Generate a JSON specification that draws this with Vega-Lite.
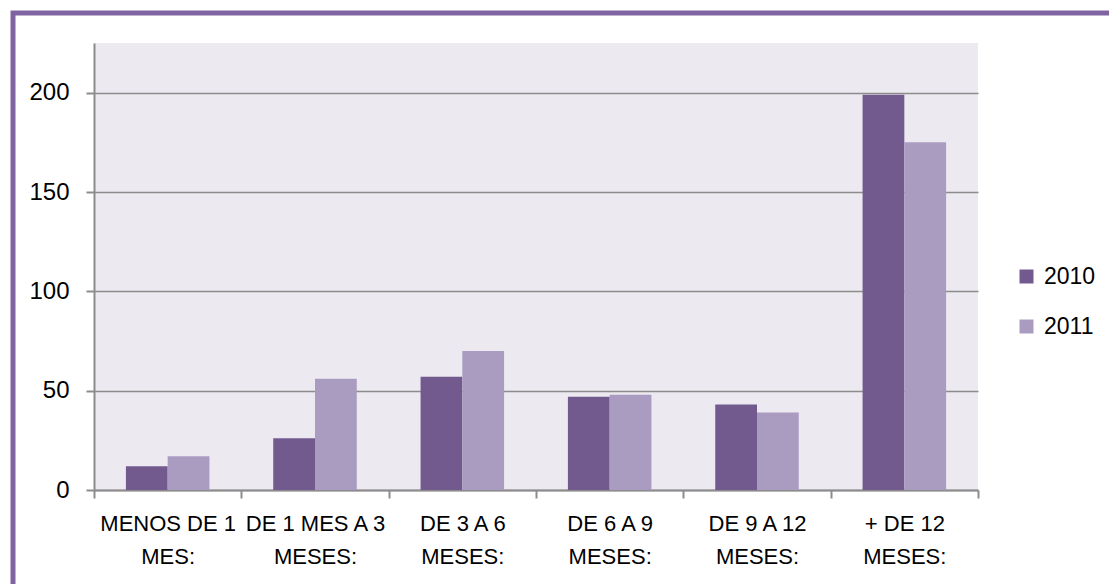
{
  "$schema": "https://vega.github.io/schema/vega-lite/v6.json",
  "width": 884,
  "height": 447,
  "padding": {"left": 10, "top": 10, "right": 0, "bottom": 0},
  "background": "white",
  "config": {
    "view": {"fill": "#ECE9F1", "stroke": null},
    "font": "Liberation Sans"
  },
  "data": {
    "values": [
      {"cat": "MENOS DE 1 MES:", "year": "2010", "value": 12},
      {"cat": "MENOS DE 1 MES:", "year": "2011", "value": 17},
      {"cat": "DE 1 MES A 3 MESES:", "year": "2010", "value": 26},
      {"cat": "DE 1 MES A 3 MESES:", "year": "2011", "value": 56},
      {"cat": "DE 3 A 6 MESES:", "year": "2010", "value": 57},
      {"cat": "DE 3 A 6 MESES:", "year": "2011", "value": 70},
      {"cat": "DE 6 A 9 MESES:", "year": "2010", "value": 47},
      {"cat": "DE 6 A 9 MESES:", "year": "2011", "value": 48},
      {"cat": "DE 9 A 12 MESES:", "year": "2010", "value": 43},
      {"cat": "DE 9 A 12 MESES:", "year": "2011", "value": 39},
      {"cat": "+ DE 12 MESES:", "year": "2010", "value": 199},
      {"cat": "+ DE 12 MESES:", "year": "2011", "value": 175}
    ]
  },
  "mark": {"type": "bar", "strokeWidth": 0},
  "encoding": {
    "x": {
      "field": "cat",
      "type": "nominal",
      "sort": ["MENOS DE 1 MES:", "DE 1 MES A 3 MESES:", "DE 3 A 6 MESES:", "DE 6 A 9 MESES:", "DE 9 A 12 MESES:", "+ DE 12 MESES:"],
      "scale": {"paddingInner": 0, "paddingOuter": 0},
      "axis": {
        "title": null,
        "labelAngle": 0,
        "tickBand": "extent",
        "tickSize": 8,
        "tickWidth": 2,
        "tickColor": "#8C8C8C",
        "domainColor": "#8C8C8C",
        "domainWidth": 2,
        "labelExpr": "[slice(datum.label, 0, lastindexof(datum.label, ' ')), slice(datum.label, lastindexof(datum.label, ' ') + 1)]",
        "labelLineHeight": 33,
        "labelFontSize": 22,
        "labelColor": "#000000",
        "labelPadding": 15,
        "labelLimit": 300,
        "labelOverlap": false
      }
    },
    "xOffset": {
      "field": "year",
      "type": "nominal",
      "scale": {"paddingInner": 0, "paddingOuter": 0.764}
    },
    "y": {
      "field": "value",
      "type": "quantitative",
      "scale": {"domain": [0, 225], "nice": false},
      "axis": {
        "title": null,
        "values": [0, 50, 100, 150, 200],
        "grid": true,
        "gridColor": "#8C8C8C",
        "gridWidth": 1.5,
        "domainColor": "#8C8C8C",
        "domainWidth": 2,
        "tickColor": "#8C8C8C",
        "tickSize": 8,
        "tickWidth": 2,
        "labelFontSize": 24,
        "labelColor": "#000000",
        "labelPadding": 17
      }
    },
    "color": {
      "field": "year",
      "type": "nominal",
      "scale": {"domain": ["2010", "2011"], "range": ["#725A8F", "#AA9BC0"]},
      "legend": {
        "orient": "none",
        "legendX": 921,
        "legendY": 222,
        "title": null,
        "padding": 0,
        "symbolType": "square",
        "symbolSize": 196,
        "symbolStrokeWidth": 0,
        "labelFontSize": 23,
        "labelColor": "#000000",
        "labelOffset": 6,
        "rowPadding": 26
      }
    },
    "stroke": {
      "field": "value",
      "type": "quantitative",
      "legend": {
        "orient": "none",
        "legendX": -81,
        "legendY": -30,
        "direction": "horizontal",
        "gradientLength": 530,
        "gradientThickness": 10,
        "gradientOpacity": 0,
        "gradientStrokeWidth": 0,
        "padding": 290,
        "labelExpr": "''",
        "labelOpacity": 0,
        "title": null,
        "strokeColor": "#8064A2",
        "encode": {"legend": {"update": {"strokeWidth": {"value": 5}}}}
      }
    }
  }
}
